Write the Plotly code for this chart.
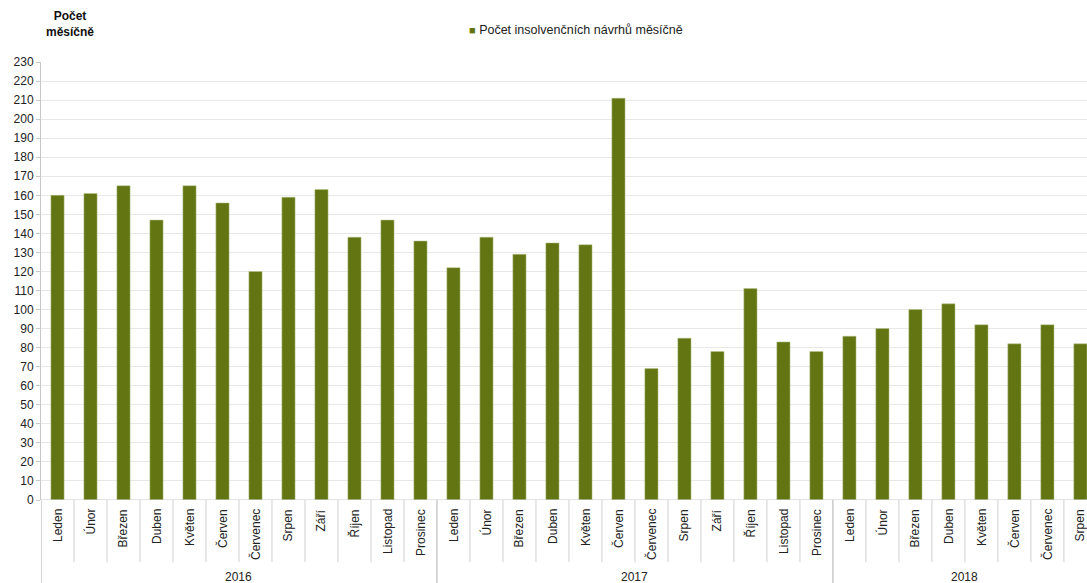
import plotly.graph_objects as go

months_2016 = ["Leden", "Únor", "Březen", "Duben", "Květen", "Červen", "Červenec", "Srpen", "Září", "Říjen", "Listopad", "Prosinec"]
months_2017 = ["Leden", "Únor", "Březen", "Duben", "Květen", "Červen", "Červenec", "Srpen", "Září", "Říjen", "Listopad", "Prosinec"]
months_2018 = ["Leden", "Únor", "Březen", "Duben", "Květen", "Červen", "Červenec", "Srpen"]
years = ["2016", "2017", "2018"]

values_2016 = [160, 161, 165, 147, 165, 156, 120, 159, 163, 138, 147, 136]
values_2017 = [122, 138, 129, 135, 134, 211, 69, 85, 78, 111, 83, 78]
values_2018 = [86, 90, 100, 103, 92, 82, 92, 82]

series_name = "Počet insolvenčních návrhů měsíčně"

groups = [months_2016, months_2017, months_2018]
labels = months_2016 + months_2017 + months_2018
values = values_2016 + values_2017 + values_2018
xs = list(range(len(values)))

FONT = "Liberation Sans, Arial, sans-serif"
BAR = "#627512"

fig = go.Figure()
fig.add_trace(go.Bar(x=xs, y=values, name=series_name,
                     marker=dict(color=BAR, line=dict(color="#b9c48a", width=0.5)),
                     width=0.4, showlegend=False))

shapes = []
annotations = []
# month labels
for i, lab in enumerate(labels):
    annotations.append(dict(x=i, y=-0.016, xref="x", yref="paper", text=lab, textangle=-90,
                            showarrow=False, xanchor="center", yanchor="top",
                            font=dict(family=FONT, size=12, color="#222")))
# category separators
n = len(values)
year_bounds = [0]
for g in groups:
    year_bounds.append(year_bounds[-1] + len(g))
for k in range(1, n):
    if k in year_bounds:
        continue
    shapes.append(dict(type="line", xref="x", yref="paper", x0=k - 0.5, x1=k - 0.5, y0=0, y1=-0.142,
                       line=dict(color="#d0d0d0", width=1)))
for b in year_bounds[:-1]:
    shapes.append(dict(type="line", xref="x", yref="paper", x0=b - 0.5, x1=b - 0.5, y0=0, y1=-0.19,
                       line=dict(color="#b0b0b0", width=1)))
# year labels
for yi, yr in enumerate(years):
    c = (year_bounds[yi] + year_bounds[yi + 1] - 1) / 2
    annotations.append(dict(x=c, y=-0.176, xref="x", yref="paper", text=yr, showarrow=False,
                            xanchor="center", yanchor="middle", font=dict(family=FONT, size=12, color="#222")))
# y title
annotations.append(dict(x=0.028, y=1.087, xref="paper", yref="paper", text="<b>Počet<br>měsíčně</b>",
                        showarrow=False, xanchor="center", yanchor="middle", align="center",
                        font=dict(family=FONT, size=12, color="#111")))
# legend (series key)
annotations.append(dict(x=0.407, y=1.073, xref="paper", yref="paper",
                        text=f'<span style="color:{BAR};font-size:11px">■</span> {series_name}',
                        showarrow=False, xanchor="left", yanchor="middle",
                        font=dict(family=FONT, size=12.5, color="#222")))

fig.update_layout(
    width=1087, height=583,
    margin=dict(l=41, r=0, t=62, b=83),
    paper_bgcolor="white", plot_bgcolor="white",
    shapes=shapes, annotations=annotations,
    xaxis=dict(range=[-0.5, n - 0.8], showticklabels=False, showgrid=False, zeroline=False,
               showline=False, ticks=""),
    yaxis=dict(range=[0, 230], dtick=10, showgrid=True, gridcolor="#e8e8e8", gridwidth=1,
               zeroline=False, showline=True, linecolor="#c8c8c8", ticks="outside", ticklen=4,
               tickcolor="#c8c8c8", tickfont=dict(family=FONT, size=12, color="#222")),
)
fig.add_hline(y=0, line=dict(color="#c8c8c8", width=1))

fig.write_html("out.html", config={"displayModeBar": False},
               post_script="document.body.style.margin='0';document.body.style.overflow='hidden';")
